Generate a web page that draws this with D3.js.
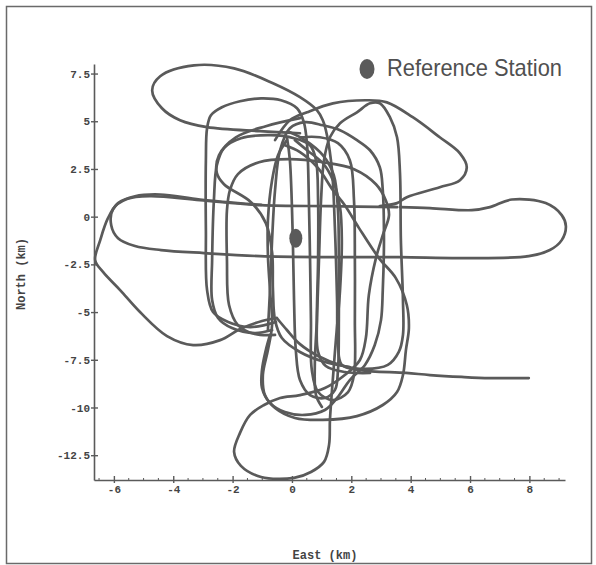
<!DOCTYPE html>
<html>
<head>
<meta charset="utf-8">
<script src="https://cdn.jsdelivr.net/npm/d3@7"></script>
<style>
  body { margin: 0; background: #fff; }
  svg { display: block; }
</style>
</head>
<body>
<svg id="chart" width="596" height="565"></svg>
<script>
// Flight tracks around the reference station, [east km, north km]

const xTicks = [-6, -4, -2, 0, 2, 4, 6, 8];
const yTicks = [7.5, 5, 2.5, 0, -2.5, -5, -7.5, -10, -12.5];

const refStation = [0.13, -1.13];

const trackNorthWest = [
    [0.27, 4.37], [-1.08, 4.48], [-2.86, 4.69], [-3.77, 5.05], [-4.38, 5.68], [-4.71, 6.62],
    [-4.44, 7.36], [-3.30, 7.93], [-1.95, 7.77], [-0.64, 6.99], [0.27, 6.26], [0.84, 5.58],
    [1.04, 5.05], [1.18, 4.27], [1.35, 2.43], [1.45, -0.71], [1.52, -4.37], [1.55, -6.73],
    [1.68, -7.77], [2.29, -8.04], [3.84, -8.19], [4.65, -8.30], [5.72, -8.40], [6.67, -8.46],
    [7.98, -8.46]
];

const trackNorthEast = [
    [-0.57, 4.01], [-0.07, 5.05], [0.51, 5.47], [1.38, 5.94], [2.53, 6.10], [3.20, 5.99],
    [4.07, 5.21], [4.98, 4.16], [5.66, 3.32], [5.89, 2.59], [5.66, 1.91], [4.98, 1.54],
    [3.87, 1.02], [3.54, 0.71], [2.96, 0.55]
];

const trackEastWest = [
    [3.54, 0.50], [1.28, 0.55], [-1.04, 0.60], [-3.10, 0.86], [-4.78, 1.07], [-5.56, 0.92],
    [-6.03, 0.39], [-6.09, -0.45], [-5.86, -1.13], [-5.29, -1.54], [-4.41, -1.75], [-2.96, -1.91],
    [-1.08, -2.07], [1.28, -2.12], [3.64, -2.12], [5.72, -2.17], [7.98, -2.07], [8.69, -1.75],
    [9.09, -1.23], [9.23, -0.50], [9.09, 0.08], [8.55, 0.71], [7.41, 0.90], [6.67, 0.50],
    [6.06, 0.34], [4.65, 0.45], [3.64, 0.50]
];

const trackWestLoop = [
    [-1.04, 0.62], [-3.10, 0.90], [-4.44, 1.16], [-5.29, 1.07], [-5.86, 0.71], [-6.20, -0.08],
    [-6.46, -1.23], [-6.63, -2.28], [-6.36, -2.91], [-5.79, -3.85], [-5.12, -5.00], [-4.21, -6.26],
    [-3.33, -6.73], [-2.42, -6.47], [-1.75, -5.89], [-1.01, -5.47], [-0.51, -5.31]
];

const trackEastOne = [
    [-0.51, -5.31], [-0.17, -5.94], [0.27, -6.68], [0.88, -7.30], [1.62, -7.77], [2.46, -7.98],
    [3.23, -7.77], [3.60, -7.09], [3.74, -6.20], [3.74, -4.37], [3.67, -1.23], [3.64, 2.28],
    [3.54, 4.16], [3.30, 5.21], [2.96, 5.94], [2.63, 5.94], [2.19, 5.47], [1.62, 4.90],
    [1.28, 4.16], [1.08, 2.96], [0.98, 0.86], [0.91, -2.28], [0.84, -5.42], [0.77, -7.77],
    [0.81, -9.35], [1.01, -9.97]
];

const trackEastTwo = [
    [-0.81, -5.94], [-0.74, -3.85], [-0.67, -1.23], [-0.57, 1.39], [-0.40, 3.48], [-0.07, 4.63],
    [0.44, 4.95], [1.04, 4.79], [1.62, 4.53], [2.19, 4.01], [2.63, 3.48], [2.96, 2.59],
    [3.06, 1.39], [3.10, -1.23], [3.06, -3.85], [3.00, -5.42], [2.79, -6.73], [2.46, -7.77],
    [1.95, -8.56], [1.52, -9.50], [1.11, -10.13], [0.44, -10.39], [-0.24, -10.24], [-0.74, -9.76],
    [-1.01, -8.98], [-1.01, -8.04], [-0.88, -6.99], [-0.74, -6.20]
];

const trackSouth = [
    [-0.57, -6.20], [-1.25, -6.15], [-1.82, -5.68], [-2.12, -4.63], [-2.19, -2.28], [-2.19, 0.34],
    [-2.09, 1.39], [-1.82, 2.23], [-1.11, 2.85], [-0.10, 3.01], [1.04, 2.85], [2.09, 2.49],
    [2.83, 1.70], [3.16, 0.86], [3.27, 0.08], [3.06, -0.97], [2.83, -2.17], [2.59, -4.11],
    [2.49, -6.36], [2.29, -7.51], [1.78, -8.30], [1.11, -8.98], [0.27, -9.35], [-0.40, -9.50],
    [-0.94, -9.87], [-1.41, -10.39], [-1.75, -11.33], [-1.95, -12.33], [-1.72, -13.06], [-1.04, -13.64],
    [0.07, -13.69], [0.64, -13.38], [1.08, -12.85], [1.25, -11.96], [1.28, -10.65], [1.35, -9.08],
    [1.48, -6.47], [1.62, -3.85], [1.68, -1.23], [1.62, 0.50], [1.38, 1.91], [1.04, 2.80],
    [0.51, 3.48], [0.10, 4.01]
];

const trackFan = [
    [-0.24, 3.74], [0.27, 3.38], [0.88, 2.54], [1.38, 1.39], [1.78, 0.60], [2.26, -0.60],
    [2.93, -2.17], [3.50, -3.22], [3.87, -4.63], [3.94, -5.84], [3.84, -6.99], [3.74, -8.30],
    [3.54, -9.19], [3.06, -9.87], [2.19, -10.45], [1.04, -10.65], [0.10, -10.55], [-0.57, -10.03],
    [-0.91, -9.35], [-0.98, -8.30], [-0.81, -6.99], [-0.67, -5.68], [-0.74, -3.85], [-0.81, -2.02],
    [-0.81, -0.18], [-0.67, 1.91], [-0.47, 3.22], [-0.17, 4.01]
];

const trackWestBox = [
    [-0.54, -5.52], [-1.41, -5.79], [-2.15, -5.52], [-2.66, -5.00], [-2.86, -3.85], [-2.90, -0.71],
    [-2.90, 2.96], [-2.86, 4.63], [-2.73, 5.31], [-2.36, 5.73], [-1.75, 6.05], [-1.04, 6.20],
    [-0.37, 6.10], [0.17, 5.68], [0.40, 4.95], [0.51, 3.74], [0.57, 0.86], [0.61, -2.28],
    [0.64, -5.42], [0.67, -8.04], [0.88, -9.19], [1.38, -9.61], [1.89, -9.19], [2.09, -8.30],
    [2.12, -5.42], [2.12, -2.28], [2.09, 0.86], [1.95, 2.96], [1.55, 3.85], [0.94, 4.16],
    [0.27, 4.16]
];

const trackWestInner = [
    [-0.67, -5.94], [-1.25, -6.10], [-2.02, -5.84], [-2.49, -5.31], [-2.69, -4.37], [-2.69, -2.28],
    [-2.63, 0.86], [-2.53, 2.70], [-2.29, 3.59], [-1.72, 4.11], [-0.71, 4.27], [0.07, 4.11],
    [0.61, 3.74], [0.81, 2.96], [0.88, 0.86], [0.88, -2.28], [0.84, -5.42], [0.88, -7.09],
    [1.14, -7.83], [1.78, -8.14], [2.63, -8.19]
];

const trackS = [
    [0.27, 5.16], [-0.88, 4.74], [-1.89, 4.16], [-2.46, 3.22], [-2.53, 2.28], [-2.29, 1.70],
    [-1.38, 0.76], [-0.88, -0.34], [-0.67, -1.86], [-0.64, -3.85], [-0.57, -5.42], [-0.34, -6.36],
    [0.27, -7.09], [1.11, -7.62], [1.95, -7.88]
];

const trackCentre = [
    [-0.17, 4.16], [-0.07, 2.96], [0.03, -1.23], [0.07, -4.37], [0.13, -6.99], [0.27, -8.56],
    [0.61, -9.35], [1.11, -9.50], [1.45, -9.08], [1.55, -8.04], [1.58, -5.42], [1.58, -2.28],
    [1.55, 0.34], [1.41, 2.17], [1.04, 3.22], [0.44, 4.01], [-0.07, 4.42]
];

const tracks = [
    trackNorthWest, trackNorthEast, trackEastWest, trackWestLoop, trackEastOne, trackEastTwo,
    trackSouth, trackFan, trackWestBox, trackWestInner, trackS, trackCentre
];

const ink = '#5a5a5a';
const monoFont = '"Liberation Mono", "DejaVu Sans Mono", monospace';

const svg = d3.select('#chart');

// outer frame of the scanned figure
svg.append('rect')
    .attr('x', 6.5).attr('y', 6.5)
    .attr('width', 585).attr('height', 557)
    .attr('fill', 'none')
    .attr('stroke', '#6a6a6a')
    .attr('stroke-width', 1.5);

const x = d3.scaleLinear().domain([-6.67, 9.2]).range([94, 565]);
const y = d3.scaleLinear().domain([-13.8, 8.0]).range([480, 64]);

// tracks
const line = d3.line()
    .x(d => x(d[0]))
    .y(d => y(d[1]))
    .curve(d3.curveCatmullRom.alpha(0.5));

svg.append('g')
    .selectAll('path')
    .data(tracks)
    .join('path')
    .attr('d', line)
    .attr('fill', 'none')
    .attr('stroke', ink)
    .attr('stroke-width', 2.7)
    .attr('stroke-linejoin', 'round')
    .attr('stroke-linecap', 'round');

// reference station marker
svg.append('ellipse')
    .attr('cx', x(refStation[0]))
    .attr('cy', y(refStation[1]))
    .attr('rx', 6.5).attr('ry', 9.5)
    .attr('fill', ink);

// axes
const yAxis = svg.append('g')
    .attr('transform', `translate(${x.range()[0]},0)`)
    .call(d3.axisLeft(y).tickValues(yTicks).tickSize(0).tickPadding(4).tickFormat(d => String(d)));

const xAxis = svg.append('g')
    .attr('transform', `translate(0,${y.range()[0]})`)
    .call(d3.axisBottom(x).tickValues(xTicks).tickSize(0).tickPadding(5).tickFormat(d => String(d)));

[yAxis, xAxis].forEach(g => {
    g.select('.domain').attr('stroke', ink).attr('stroke-width', 1.6);
    g.selectAll('text')
        .attr('fill', '#444')
        .style('font-family', monoFont)
        .style('font-weight', 'bold')
        .style('font-size', '11px');
});

yAxis.selectAll('.tick').append('line')
    .attr('x1', -3).attr('x2', 4)
    .attr('stroke', ink).attr('stroke-width', 1.4);
xAxis.selectAll('.tick').append('line')
    .attr('y1', -4).attr('y2', 3)
    .attr('stroke', ink).attr('stroke-width', 1.4);

// small minor marks along the east axis
xAxis.append('g')
    .selectAll('line')
    .data(d3.range(-6.5, 9.01, 0.5).filter(v => !xTicks.includes(v)))
    .join('line')
    .attr('x1', d => x(d)).attr('x2', d => x(d))
    .attr('y1', -2).attr('y2', 0)
    .attr('stroke', ink).attr('stroke-width', 1);

// axis titles
svg.append('text')
    .attr('x', 325).attr('y', 559)
    .attr('text-anchor', 'middle')
    .style('font-family', monoFont)
    .style('font-weight', 'bold')
    .style('font-size', '12px')
    .attr('fill', '#444')
    .text('East (km)');

svg.append('text')
    .attr('transform', 'translate(25,274) rotate(-90)')
    .attr('text-anchor', 'middle')
    .style('font-family', monoFont)
    .style('font-weight', 'bold')
    .style('font-size', '12px')
    .attr('fill', '#444')
    .text('North (km)');

// legend
svg.append('ellipse')
    .attr('cx', 367).attr('cy', 69)
    .attr('rx', 7.5).attr('ry', 10)
    .attr('fill', ink);

svg.append('text')
    .attr('x', 387).attr('y', 76)
    .attr('textLength', 175)
    .attr('lengthAdjust', 'spacingAndGlyphs')
    .style('font-family', '"Liberation Sans", Arial, sans-serif')
    .style('font-size', '24px')
    .attr('fill', '#505050')
    .text('Reference Station');
</script>
</body>
</html>
